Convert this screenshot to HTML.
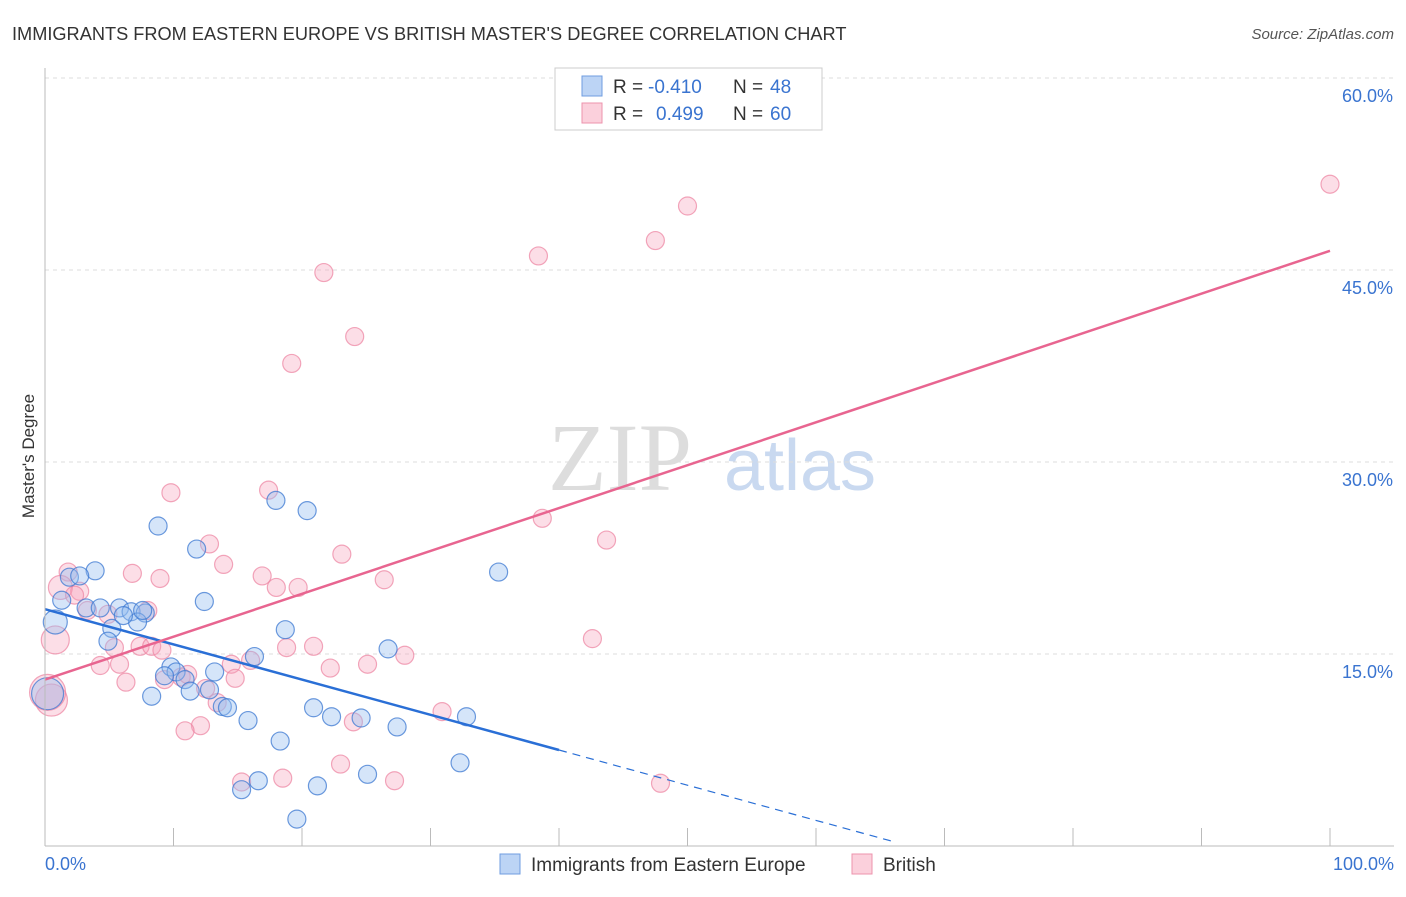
<!DOCTYPE html>
<html><head><meta charset="utf-8"><style>
body{margin:0;background:#fff;font-family:"Liberation Sans",sans-serif;}
</style></head><body>
<svg width="1406" height="892" xmlns="http://www.w3.org/2000/svg">
<text x="12" y="40" font-size="18.2" fill="#333">IMMIGRANTS FROM EASTERN EUROPE VS BRITISH MASTER'S DEGREE CORRELATION CHART</text>
<text x="1394" y="39" font-size="15" fill="#555" text-anchor="end" font-style="italic">Source: ZipAtlas.com</text>
<text x="34" y="456" font-size="17" fill="#333" text-anchor="middle" transform="rotate(-90 34 456)">Master's Degree</text>
<text x="620" y="490" font-size="96" fill="#ddd" font-family="Liberation Serif,serif" text-anchor="middle">ZIP</text>
<text x="800" y="490" font-size="72" fill="#c9d9f0" text-anchor="middle">atlas</text>
<g id="grid"></g><g id="pts"></g><g id="lines"></g>
<line x1="45" y1="68" x2="45" y2="846" stroke="#bbb"/>
<line x1="45" y1="846" x2="1394" y2="846" stroke="#bbb"/>
<text x="45" y="870" font-size="18" fill="#3a74d0">0.0%</text>
<text x="1394" y="870" font-size="18" fill="#3a74d0" text-anchor="end">100.0%</text>
<g>
<rect x="555" y="68" width="267" height="62" fill="#fff" stroke="#ccc"/>
<rect x="582" y="76" width="20" height="20" fill="#bcd4f5" stroke="#6f9de0"/>
<rect x="582" y="103" width="20" height="20" fill="#fbd0dc" stroke="#ec93ad"/>
<text x="613" y="93" font-size="19" fill="#333">R =</text>
<text x="648" y="93" font-size="19" fill="#3a74d0">-0.410</text>
<text x="733" y="93" font-size="19" fill="#333">N =</text>
<text x="770" y="93" font-size="19" fill="#3a74d0">48</text>
<text x="613" y="120" font-size="19" fill="#333">R =</text>
<text x="656" y="120" font-size="19" fill="#3a74d0">0.499</text>
<text x="733" y="120" font-size="19" fill="#333">N =</text>
<text x="770" y="120" font-size="19" fill="#3a74d0">60</text>
</g>
<g>
<rect x="500" y="854" width="20" height="20" fill="#bcd4f5" stroke="#6f9de0"/>
<text x="531" y="871" font-size="19" fill="#333">Immigrants from Eastern Europe</text>
<rect x="852" y="854" width="20" height="20" fill="#fbd0dc" stroke="#ec93ad"/>
<text x="883" y="871" font-size="19" fill="#333">British</text>
</g>
</svg>
<script>
const yTicks=[15,30,45,60];
const xTicks=[10,20,30,40,50,60,70,80,90,100];
const blueX=[3.9,1.9,2.7,1.3,3.2,4.3,5.8,6.7,7.8,5.2,7.2,4.9,0.8,0.2,8.8,11.8,12.4,17.97,20.4,35.3,18.7,16.3,9.8,10.2,13.2,9.3,10.9,11.3,12.8,13.8,14.2,8.3,15.8,18.3,20.9,22.3,24.6,27.4,32.8,26.7,32.3,25.1,16.6,15.3,21.2,19.6,6.1,7.6];
const blueY=[21.5,21.0,21.1,19.2,18.6,18.6,18.6,18.3,18.2,17.0,17.5,16.0,17.5,11.9,25.0,23.2,19.1,27.0,26.2,21.4,16.9,14.8,13.99,13.6,13.6,13.3,13.0,12.1,12.2,10.9,10.8,11.7,9.8,8.2,10.8,10.1,10.0,9.3,10.1,15.4,6.5,5.6,5.1,4.4,4.7,2.1,18.0,18.4];
const pinkX=[100,50.0,47.5,38.4,21.7,24.1,19.2,9.8,17.4,38.7,43.7,12.8,23.1,13.9,6.8,8.95,1.8,16.9,26.4,18.0,19.7,1.2,2.7,2.3,3.3,4.9,8.0,0.8,5.4,7.4,8.3,42.6,28.0,25.1,22.2,4.3,5.8,14.5,16.0,18.8,20.9,6.3,9.3,10.6,11.1,12.5,14.8,13.4,12.1,10.9,24.0,30.9,0.5,15.3,18.5,23.0,27.2,47.9,9.1,0.2];
const pinkY=[51.7,50.0,47.3,46.1,44.8,39.8,37.7,27.6,27.8,25.6,23.9,23.6,22.8,22.0,21.3,20.9,21.4,21.1,20.8,20.2,20.2,20.2,19.9,19.6,18.4,18.1,18.4,16.1,15.5,15.6,15.6,16.2,14.9,14.2,13.9,14.1,14.2,14.2,14.5,15.5,15.6,12.8,13.0,13.2,13.4,12.3,13.1,11.2,9.4,9.0,9.7,10.5,11.4,5.0,5.3,6.4,5.1,4.9,15.3,12.0];
const blueR=[9,9,9,9,9,9,9,9,9,9,9,9,12,16];
const pinkR={21:12,27:14,52:16,59:18};
const X=v=>45+v*12.85, Y=v=>846-v*12.8;
const NS='http://www.w3.org/2000/svg';
const grid=document.getElementById('grid'),pts=document.getElementById('pts'),lines=document.getElementById('lines');
function mk(tag,at,parent){const e=document.createElementNS(NS,tag);for(const k in at)e.setAttribute(k,at[k]);parent.appendChild(e);return e;}
yTicks.forEach(t=>{
 const l=mk('line',{x1:45,x2:1394,y1:Y(t),y2:Y(t),stroke:'#ddd','stroke-dasharray':'4,4'},grid);
 
 
 const tx=mk('text',{x:1393,y:Y(t)+24,'font-size':18,fill:'#3a74d0','text-anchor':'end'},grid);
 tx.textContent=t.toFixed(1)+'%';
 
 
});
xTicks.forEach(t=>{
 const l=mk('line',{x1:X(t),x2:X(t),y1:828,y2:846,stroke:'#bbb'},grid);
 
 
});
pinkX.forEach((v,i)=>{
 const c=mk('circle',{cx:X(v),cy:Y(pinkY[i]),r:pinkR[i]||9,fill:'rgba(246,160,185,0.35)',stroke:'rgba(236,130,160,0.7)','stroke-width':1.2},pts);
 
 
});
blueX.forEach((v,i)=>{
 const c=mk('circle',{cx:X(v),cy:Y(blueY[i]),r:blueR[i]||9,fill:'rgba(150,190,240,0.4)',stroke:'rgba(60,120,210,0.75)','stroke-width':1.2},pts);
 
 
});
const bA=18.5,bB=-0.275,pA=13.0,pB=0.335;
let l=mk('line',{x1:X(0),y1:Y(bA),x2:X(40),y2:Y(bA+bB*40),stroke:'#2a6fd6','stroke-width':2.5},lines);


l=mk('line',{x1:X(40),y1:Y(bA+bB*40),x2:X(66.2),y2:Y(bA+bB*66.2),stroke:'#2a6fd6','stroke-width':1.2,'stroke-dasharray':'8,6'},lines);


l=mk('line',{x1:X(0),y1:Y(pA),x2:X(100),y2:Y(pA+pB*100),stroke:'#e86590','stroke-width':2.5},lines);


</script>
</body></html>
